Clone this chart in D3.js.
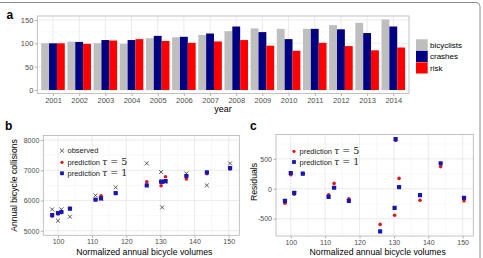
<!DOCTYPE html>
<html>
<head>
<meta charset="utf-8">
<script src="https://cdn.jsdelivr.net/npm/d3@7"></script>
<style>
body { margin: 0; background: #fff; }
svg { display: block; font-family: "Liberation Sans", Arial, sans-serif; }
</style>
</head>
<body>
<svg></svg>
<script>
// panel a : yearly indices
var years = [2001, 2002, 2003, 2004, 2005, 2006, 2007, 2008, 2009, 2010, 2011, 2012, 2013, 2014];
var bicyclists = [100, 103.6, 100, 99, 111, 113, 118, 126, 132, 131, 131, 139, 144, 151];
var crashes = [100, 103, 107, 107, 116, 114, 121, 136, 124, 109, 131, 130, 122, 136];
var risk = [100, 99, 106, 109, 105, 101, 104, 107, 95, 84, 101, 94, 85, 91];
var seriesNames = ["bicyclists", "crashes", "risk"];
var aTicks = [0, 50, 100, 150];

// panels b and c : collisions vs. normalized volumes
var volumes = [98.3, 100, 101, 103.5, 111, 112.6, 116.9, 126, 130.2, 130.5, 131.5, 137.6, 143.6, 150.4];
var observed = [5707, 5332, 5707, 5464, 6170, 6060, 6434, 7228, 6942, 5773, 6615, 6897, 6500, 7228];
var pred5 = [5486, 5563, 5600, 5729, 6040, 6159, 6247, 6622, 6490, 6610, 6787, 6710, 6886, 7041];
var pred1 = [5519, 5586, 5620, 5729, 6026, 6070, 6247, 6500, 6622, 6620, 6644, 6810, 6930, 7074];
var res5 = [-242, 236, -90, 253, -101, 90, -169, -596, -444, 810, 174, -191, 371, -202];
var res1 = [-202, 264, -67, 253, -135, 17, -202, -713, -320, 831, 28, -107, 427, -152];
var volTicks = [100, 110, 120, 130, 140, 150];
var collTicks = [5000, 6000, 7000, 8000];
var resTicks = [-500, 0, 500];

var width = 483, height = 258;
var borderCol = "#b3b3b3", gridCol = "#e6e6e6", minorCol = "#f3f3f3", tickTxt = "#4d4d4d";
var barCols = ["#bebebe", "#000080", "#ff0000"];
var redPt = "#e3121b", bluePt = "#1616b4";
var plain = function(d) { return String(d); };

var svg = d3.select("svg").attr("width", width).attr("height", height);

// outer frame (only top and right visible)
svg.append("path")
    .attr("d", "M0,2.5H476A4,4 0 0 1 480,6.5V258")
    .attr("fill", "none").attr("stroke", "#8c8c8c").attr("stroke-width", 1);

function styleAxis(g, size) {
    g.attr("font-family", "Liberation Sans, Arial, sans-serif").attr("font-size", size);
    g.select(".domain").remove();
    g.selectAll(".tick line").attr("stroke", borderCol);
    g.selectAll(".tick text").attr("fill", tickTxt);
}

function panelLabel(txt, x, y) {
    svg.append("text").attr("x", x).attr("y", y)
        .attr("font-weight", "bold").attr("font-size", 12).text(txt);
}

// ---------- panel a ----------
var ax = d3.scalePoint().domain(years).range([37.3, 409]).padding(0.6);
var ay = d3.scaleLinear().domain([-7.55, 158.55]).range([93.5, 16]);
var step = ax.step();
var ga = svg.append("g");

ga.selectAll(".minor").data([25, 75, 125]).enter().append("line")
    .attr("x1", 37.3).attr("x2", 409)
    .attr("y1", function(d) { return ay(d); }).attr("y2", function(d) { return ay(d); })
    .attr("stroke", minorCol).attr("stroke-width", 0.6);
ga.selectAll(".hmaj").data(aTicks).enter().append("line")
    .attr("x1", 37.3).attr("x2", 409)
    .attr("y1", function(d) { return ay(d); }).attr("y2", function(d) { return ay(d); })
    .attr("stroke", gridCol).attr("stroke-width", 0.8);
ga.selectAll(".vmaj").data(years).enter().append("line")
    .attr("y1", 16).attr("y2", 93.5)
    .attr("x1", function(d) { return ax(d); }).attr("x2", function(d) { return ax(d); })
    .attr("stroke", gridCol).attr("stroke-width", 0.8);

var seriesVals = [bicyclists, crashes, risk];
seriesVals.forEach(function(vals, k) {
    ga.selectAll(".bar" + k).data(years).enter().append("rect")
        .attr("x", function(d) { return ax(d) - 0.45 * step + k * 0.3 * step; })
        .attr("width", 0.3 * step)
        .attr("y", function(d, i) { return ay(vals[i]); })
        .attr("height", function(d, i) { return ay(0) - ay(vals[i]); })
        .attr("fill", barCols[k]);
});

ga.append("rect").attr("x", 37.3).attr("y", 16).attr("width", 409 - 37.3).attr("height", 93.5 - 16)
    .attr("fill", "none").attr("stroke", borderCol).attr("stroke-width", 0.8);

ga.append("g").attr("transform", "translate(37.3,0)")
    .call(d3.axisLeft(ay).tickValues(aTicks).tickFormat(plain).tickSize(2.5).tickPadding(1.5))
    .call(styleAxis, 7.5);
ga.append("g").attr("transform", "translate(0,93.5)")
    .call(d3.axisBottom(ax).tickFormat(plain).tickSize(2.5).tickPadding(1.5))
    .call(styleAxis, 7.5);

ga.append("text").attr("x", 223).attr("y", 111.5).attr("text-anchor", "middle")
    .attr("font-size", 9).text("year");

var leg = ga.selectAll(".leg").data(seriesNames).enter().append("g")
    .attr("transform", function(d, i) { return "translate(416," + (39.3 + i * 11.5) + ")"; });
leg.append("rect").attr("width", 11.7).attr("height", 11.2)
    .attr("fill", function(d, i) { return barCols[i]; });
leg.append("text").attr("x", 14).attr("y", 8.6).attr("font-size", 8).text(function(d) { return d; });

panelLabel("a", 6.5, 19);

// ---------- helpers for scatter panels ----------
function scatterPanel(x0, x1, y0, y1, xs, ys, yTicks, yMinor) {
    var g = svg.append("g");
    var xMinor = [95, 105, 115, 125, 135, 145];
    g.selectAll(".vmin").data(xMinor).enter().append("line")
        .attr("y1", y0).attr("y2", y1)
        .attr("x1", function(d) { return xs(d); }).attr("x2", function(d) { return xs(d); })
        .attr("stroke", minorCol).attr("stroke-width", 0.6);
    g.selectAll(".hmin").data(yMinor).enter().append("line")
        .attr("x1", x0).attr("x2", x1)
        .attr("y1", function(d) { return ys(d); }).attr("y2", function(d) { return ys(d); })
        .attr("stroke", minorCol).attr("stroke-width", 0.6);
    g.selectAll(".vmaj").data(volTicks).enter().append("line")
        .attr("y1", y0).attr("y2", y1)
        .attr("x1", function(d) { return xs(d); }).attr("x2", function(d) { return xs(d); })
        .attr("stroke", gridCol).attr("stroke-width", 0.8);
    g.selectAll(".hmaj").data(yTicks).enter().append("line")
        .attr("x1", x0).attr("x2", x1)
        .attr("y1", function(d) { return ys(d); }).attr("y2", function(d) { return ys(d); })
        .attr("stroke", gridCol).attr("stroke-width", 0.8);
    g.append("rect").attr("x", x0).attr("y", y0).attr("width", x1 - x0).attr("height", y1 - y0)
        .attr("fill", "none").attr("stroke", borderCol).attr("stroke-width", 0.8);
    g.append("g").attr("transform", "translate(" + x0 + ",0)")
        .call(d3.axisLeft(ys).tickValues(yTicks).tickFormat(plain).tickSize(2.5).tickPadding(1.5))
        .call(styleAxis, 7);
    g.append("g").attr("transform", "translate(0," + y1 + ")")
        .call(d3.axisBottom(xs).tickValues(volTicks).tickFormat(plain).tickSize(2.5).tickPadding(1.5))
        .call(styleAxis, 7);
    g.append("text").attr("x", (x0 + x1) / 2 + 3).attr("y", 255).attr("text-anchor", "middle")
        .attr("font-size", 8.7).text("Normalized annual bicycle volumes");
    return g;
}

function drawPoints(g, xs, ys, vals, kind) {
    if (kind === "x") {
        g.selectAll(null).data(vals).enter().append("path")
            .attr("d", d3.symbol(d3.symbolTimes, 12))
            .attr("transform", function(d, i) { return "translate(" + xs(volumes[i]) + "," + ys(d) + ")"; })
            .attr("fill", "none").attr("stroke", "#333").attr("stroke-width", 0.8);
    } else if (kind === "red") {
        g.selectAll(null).data(vals).enter().append("circle")
            .attr("cx", function(d, i) { return xs(volumes[i]); })
            .attr("cy", function(d) { return ys(d); })
            .attr("r", 1.8).attr("fill", redPt);
    } else {
        g.selectAll(null).data(vals).enter().append("rect")
            .attr("x", function(d, i) { return xs(volumes[i]) - 2.1; })
            .attr("y", function(d) { return ys(d) - 2.1; })
            .attr("width", 4.2).attr("height", 4.2).attr("rx", 0.6)
            .attr("fill", bluePt);
    }
}

function legendRow(g, x, y, kind, label, tau) {
    if (kind === "x") {
        g.append("path").attr("d", d3.symbol(d3.symbolTimes, 12))
            .attr("transform", "translate(" + x + "," + y + ")")
            .attr("fill", "none").attr("stroke", "#333").attr("stroke-width", 0.8);
    } else if (kind === "red") {
        g.append("circle").attr("cx", x).attr("cy", y).attr("r", 1.6).attr("fill", redPt);
    } else {
        g.append("rect").attr("x", x - 1.9).attr("y", y - 1.9).attr("width", 3.8).attr("height", 3.8)
            .attr("fill", bluePt);
    }
    var t = g.append("text").attr("x", x + 5.5).attr("y", y + 2.6).attr("font-size", 7.5)
        .attr("fill", "#222");
    t.append("tspan").text(label);
    if (tau !== undefined) {
        t.append("tspan").attr("dx", 2).attr("font-family", "DejaVu Serif, Liberation Serif, serif")
            .attr("font-style", "italic").attr("font-size", 9.5).text("τ");
        t.append("tspan").attr("font-family", "DejaVu Serif, Liberation Serif, serif")
            .attr("font-size", 9.5).text(" = " + tau);
    }
}

// ---------- panel b ----------
var bx = d3.scaleLinear().domain([95.7, 153.1]).range([43.3, 239.3]);
var by = d3.scaleLinear().domain([4850, 8150]).range([235.3, 135.5]);
var gb = scatterPanel(43.3, 239.3, 135.5, 235.3, bx, by, collTicks, [5500, 6500, 7500]);
drawPoints(gb, bx, by, observed, "x");
drawPoints(gb, bx, by, pred5, "red");
drawPoints(gb, bx, by, pred1, "blue");
legendRow(gb, 62, 150.7, "x", "observed");
legendRow(gb, 62, 162.3, "red", "prediction", 5);
legendRow(gb, 62, 173.3, "blue", "prediction", 1);
gb.append("text").attr("transform", "translate(17.3,185.5) rotate(-90)").attr("text-anchor", "middle")
    .attr("font-size", 8.6).text("Annual bicycle collisions");
panelLabel("b", 5, 130);

// ---------- panel c ----------
var cx = d3.scaleLinear().domain([95.7, 153.1]).range([276, 473.3]);
var cy = d3.scaleLinear().domain([-790, 908]).range([236, 134.5]);
var gc = scatterPanel(276, 473.3, 134.5, 236, cx, cy, resTicks, [-750, -250, 250, 750]);
drawPoints(gc, cx, cy, res5, "red");
drawPoints(gc, cx, cy, res1, "blue");
legendRow(gc, 294, 151.3, "red", "prediction", 5);
legendRow(gc, 294, 162, "blue", "prediction", 1);
gc.append("text").attr("transform", "translate(257,182) rotate(-90)").attr("text-anchor", "middle")
    .attr("font-size", 8.7).text("Residuals");
panelLabel("c", 250, 130);
</script>
</body>
</html>
